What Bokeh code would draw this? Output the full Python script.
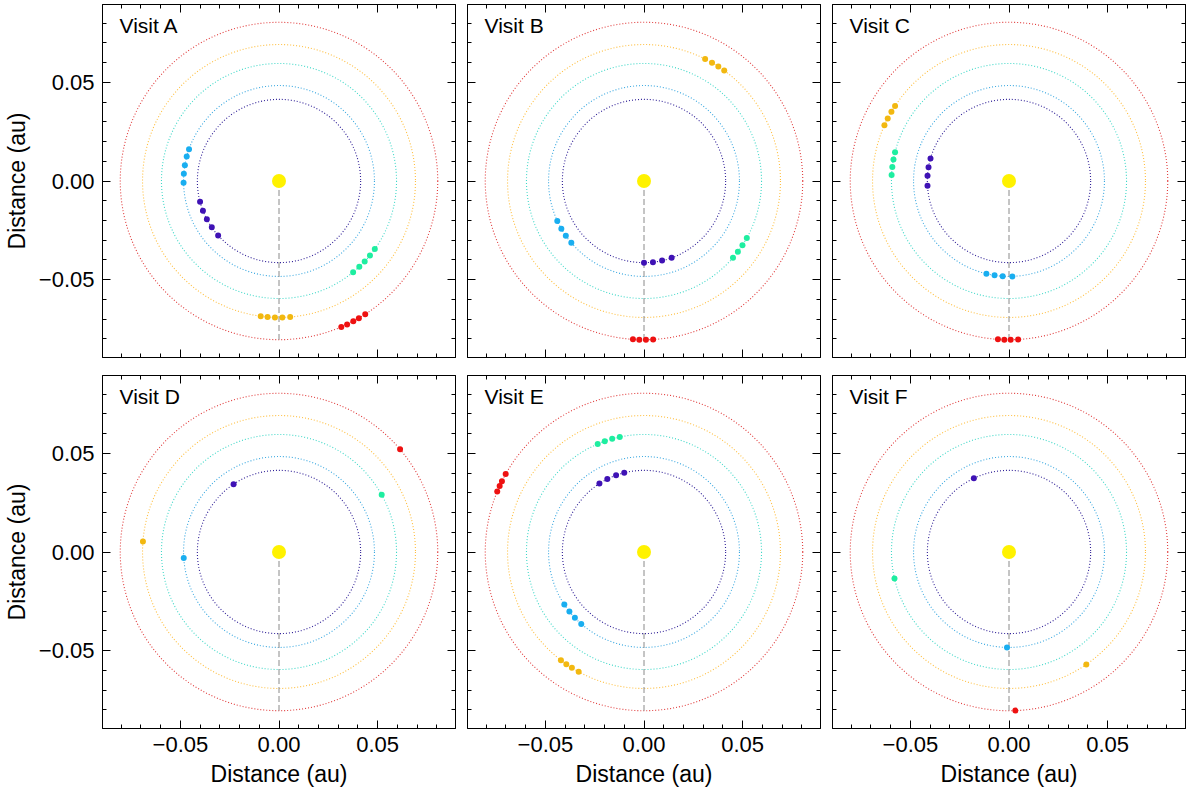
import numpy as np
from bokeh.plotting import figure
from bokeh.layouts import column, row
from bokeh.models import (ColumnDataSource, FixedTicker, LinearAxis, Label,
                          CustomLabelingPolicy)
from bokeh.embed import file_html
from bokeh.resources import INLINE

# Data
# ----
visit_labels = ["Visit A", "Visit B", "Visit C", "Visit D", "Visit E", "Visit F"]

# orbit radii (au), inner to outer
orbit_radii = [0.0414, 0.0484, 0.0596, 0.0692, 0.0805]
planet_colors = ["#3f12b5", "#19aef0", "#1eeea0", "#f2b810", "#ee1111"]
orbit_colors = ["#2e1e96", "#3aa8e0", "#40d8c8", "#ffbf40", "#e03a3a"]

# orbital phase angles (deg) of each planet, one list per visit A..F
angles_purple = [
    [194.8, 201.3, 207.9, 214.6, 221.8],
    [270.0, 276.3, 282.8, 289.8],
    [164.0, 170.3, 176.3, 183.4],
    [123.8],
    [123.1, 116.7, 110.0, 104.0],
    [115.5],
]
angles_cyan = [
    [160.5, 165.2, 170.5, 175.6, 181.0],
    [204.7, 210.0, 215.0, 220.4],
    [256.3, 261.3, 266.2, 272.0],
    [183.6],
    [213.4, 218.6, 223.6, 228.9],
    [268.8],
]
angles_turquoise = [
    [324.6, 320.7, 316.8, 313.1, 309.1],
    [331.0, 326.9, 323.0, 319.2],
    [165.8, 169.4, 173.1, 177.1],
    [29.1],
    [113.2, 109.5, 105.7, 101.9],
    [193.0],
]
angles_orange = [
    [262.3, 265.2, 268.3, 271.4, 274.7],
    [63.4, 60.1, 57.0, 54.0],
    [155.9, 152.7, 149.5, 146.6],
    [175.6],
    [232.5, 235.3, 238.1, 241.4],
    [304.5],
]
angles_red = [
    [293.1, 295.4, 297.9, 300.2, 302.9],
    [266.0, 268.3, 270.7, 273.3],
    [266.0, 268.3, 270.6, 273.3],
    [40.3],
    [157.6, 155.4, 153.5, 150.6],
    [272.3],
]
planet_angles = [angles_purple, angles_cyan, angles_turquoise, angles_orange, angles_red]

star_x = [0.0]
star_y = [0.0]

major_ticks = [-0.05, 0.0, 0.05]
tick_labels = ["\u22120.05", "0.00", "0.05"]
minor_ticks = [-0.08, -0.07, -0.06, -0.04, -0.03, -0.02, -0.01,
               0.01, 0.02, 0.03, 0.04, 0.06, 0.07, 0.08]

# Style
# -----
FONT = "Liberation Sans"
HALF = 0.0895
FRAME = 353
PX_PER_AU = FRAME / (2 * HALF)

# drop every tick label on the axes that only carry ticks
NO_LABELS = """
for (const i of Array.from(indices)) {
    indices.unset(i)
}
return indices
"""


def style_axis(axis, show_labels, label_text=None):
    axis.ticker = FixedTicker(ticks=major_ticks, minor_ticks=minor_ticks)
    axis.major_tick_in = 8
    axis.major_tick_out = 0
    axis.minor_tick_in = 4
    axis.minor_tick_out = 0
    axis.axis_line_color = "black"
    axis.major_tick_line_color = "black"
    axis.minor_tick_line_color = "black"
    if show_labels:
        axis.major_label_overrides = dict(zip(major_ticks, tick_labels))
        axis.major_label_text_font = FONT
        axis.major_label_text_font_size = "22px"
        axis.major_label_text_color = "black"
        axis.major_label_standoff = 8
        if label_text:
            axis.axis_label = label_text
            axis.axis_label_text_font = FONT
            axis.axis_label_text_font_size = "23px"
            axis.axis_label_text_font_style = "normal"
            axis.axis_label_text_color = "black"
            axis.axis_label_standoff = 6
    else:
        axis.major_label_text_font_size = "1px"
        axis.major_label_standoff = 0
        axis.major_label_policy = CustomLabelingPolicy(code=NO_LABELS)


def make_panel(visit_index):
    col_index = visit_index % 3
    row_index = visit_index // 3
    left_col = col_index == 0
    bottom_row = row_index == 1

    p = figure(
        frame_width=FRAME,
        frame_height=FRAME,
        x_range=(-HALF, HALF),
        y_range=(-HALF, HALF),
        output_backend="svg",
        toolbar_location=None,
        min_border_left=97 if left_col else 5,
        min_border_right=4,
        min_border_top=8 if bottom_row else 1,
        min_border_bottom=10 if not bottom_row else 40,
    )
    p.xgrid.visible = False
    p.ygrid.visible = False
    p.outline_line_color = "black"
    p.outline_line_width = 1
    p.background_fill_color = "white"
    p.border_fill_color = "white"

    style_axis(p.xaxis[0], bottom_row, "Distance (au)")
    style_axis(p.yaxis[0], left_col, "Distance (au)")
    top_axis = LinearAxis()
    style_axis(top_axis, False)
    p.add_layout(top_axis, "above")
    right_axis = LinearAxis()
    style_axis(right_axis, False)
    p.add_layout(right_axis, "right")

    # orbits
    orbit_source = ColumnDataSource(data={
        "x": [0.0] * len(orbit_radii),
        "y": [0.0] * len(orbit_radii),
        "r": orbit_radii,
        "color": orbit_colors,
    })
    p.circle(x="x", y="y", radius="r", source=orbit_source,
             fill_color=None, line_color="color", line_dash="1 2", line_width=1.1)

    # dashed line from star to the outer orbit
    p.segment(x0=star_x[0], y0=star_y[0], x1=star_x[0], y1=-orbit_radii[-1],
              line_color="#8a8a8a", line_dash="6 3", line_width=1)

    # star
    p.scatter(x=star_x, y=star_y, size=14, fill_color="#fff200", line_color=None)

    # planets
    xs, ys, colors = [], [], []
    for radius, color, angles_all in zip(orbit_radii, planet_colors, planet_angles):
        angles = np.radians(angles_all[visit_index])
        xs.extend(radius * np.cos(angles))
        ys.extend(radius * np.sin(angles))
        colors.extend([color] * len(angles))
    planet_source = ColumnDataSource(data={"x": xs, "y": ys, "color": colors})
    p.scatter(x="x", y="y", source=planet_source, size=6,
              fill_color="color", line_color=None)

    p.add_layout(Label(
        x=-HALF + 17 / PX_PER_AU,
        y=HALF - 9 / PX_PER_AU,
        text=visit_labels[visit_index],
        text_font=FONT,
        text_font_size="21px",
        text_baseline="top",
        text_align="left",
        text_color="black",
    ))
    return p


panels = [make_panel(i) for i in range(6)]
layout = column(row(*panels[:3]), row(*panels[3:]))

open("out.html", "w").write(file_html(layout, INLINE))
